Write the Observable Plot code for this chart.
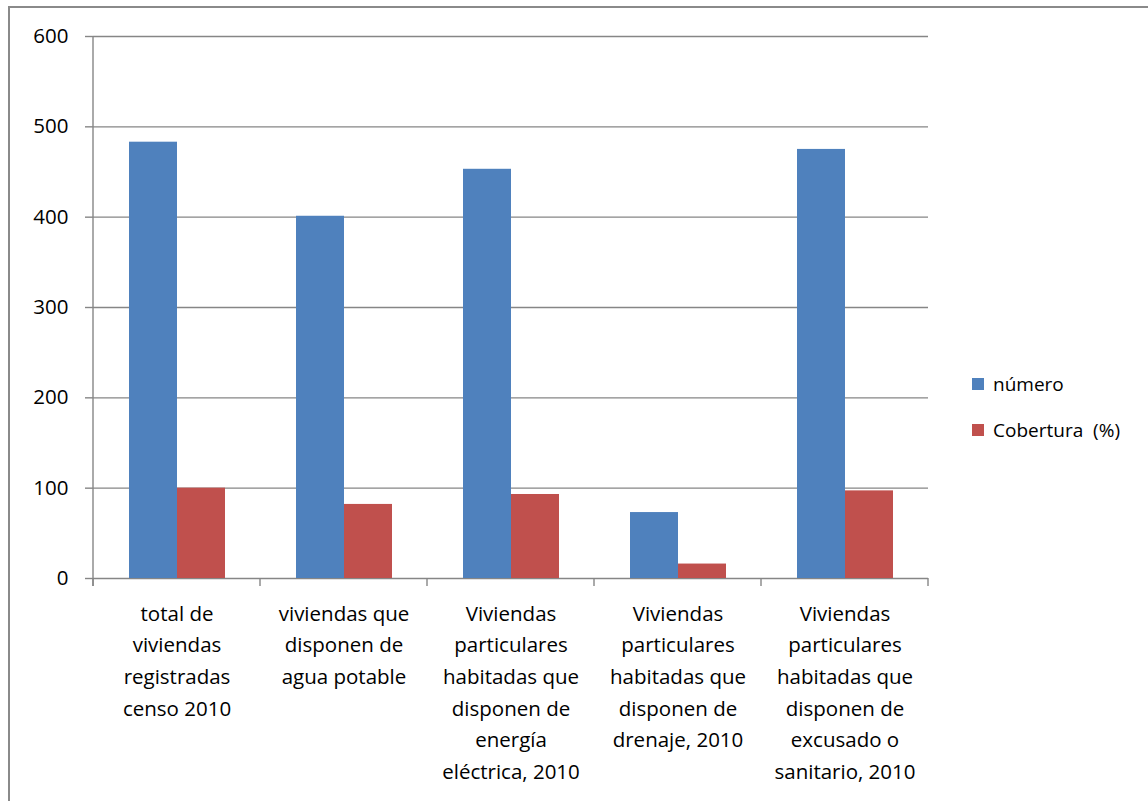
<!DOCTYPE html>
<html>
<head>
<meta charset="utf-8">
<script src="https://cdn.jsdelivr.net/npm/d3@7"></script>
<script src="https://cdn.jsdelivr.net/npm/@observablehq/plot@0.6"></script>
<style>
  html, body { margin: 0; padding: 0; background: #fff; width: 1148px; height: 801px; overflow: hidden; }
  #wrap { position: relative; width: 1148px; height: 801px; }
  #border { position: absolute; left: 8px; top: 6px; width: 1300px; height: 1000px; border-left: 2px solid #8a8a8a; border-top: 2px solid #8a8a8a; box-sizing: border-box; }
  #chart { position: absolute; left: 0; top: 0; }
  #legend { position: absolute; left: 972px; top: 361px; font-family: "Open Sans", Lato, sans-serif; font-size: 19px; color: #000; }
  .item { display: flex; align-items: center; height: 46px; }
  .sw { width: 12px; height: 12px; margin-right: 9px; }
</style>
</head>
<body>
<div id="wrap">
  <div id="border"></div>
  <div id="chart"></div>
  <div id="legend"></div>
</div>
<script>
const categories = [
  "total de viviendas registradas censo 2010",
  "viviendas que disponen de agua potable",
  "Viviendas particulares habitadas que disponen de energía eléctrica, 2010",
  "Viviendas particulares habitadas que disponen de drenaje, 2010",
  "Viviendas particulares habitadas que disponen de excusado o sanitario, 2010"
];
const categoryLabels = [
  "total de\nviviendas\nregistradas\ncenso 2010",
  "viviendas que\ndisponen de\nagua potable",
  "Viviendas\nparticulares\nhabitadas que\ndisponen de\nenergía\neléctrica, 2010",
  "Viviendas\nparticulares\nhabitadas que\ndisponen de\ndrenaje, 2010",
  "Viviendas\nparticulares\nhabitadas que\ndisponen de\nexcusado o\nsanitario, 2010"
];
const series = ["número", "Cobertura  (%)"];
const numero = [483, 401, 453, 73, 475];
const cobertura = [100, 82, 93, 16, 97];
const yTicks = [0, 100, 200, 300, 400, 500, 600];
const colors = ["#4F81BD", "#C0504D"];

const data = categories.flatMap((c, i) => [
  {cat: c, serie: series[0], value: numero[i]},
  {cat: c, serie: series[1], value: cobertura[i]}
]);
const labelOf = new Map(categories.map((c, i) => [c, categoryLabels[i]]));

const plot = Plot.plot({
  width: 940,
  height: 801,
  marginLeft: 91,
  marginRight: 11,
  marginTop: 36,
  marginBottom: 223,
  style: {fontFamily: "'Open Sans', Lato, sans-serif", fontSize: "20.5px", color: "#000", background: "transparent", overflow: "visible"},
  fx: {domain: categories, padding: 0, label: null},
  x: {domain: series, paddingInner: 0, paddingOuter: 0.728, axis: null},
  y: {domain: [0, 600], label: null},
  color: {domain: series, range: colors},
  marks: [
    Plot.gridY(yTicks, {stroke: "#868686", strokeOpacity: 1, strokeWidth: 1.4}),
    Plot.axisY(yTicks, {tickSize: 8, tickPadding: 17, stroke: "#868686", strokeWidth: 1.4, fill: "#000", label: null}),
    Plot.barY(data, {fx: "cat", x: "serie", y: "value", fill: "serie"}),
    Plot.axisFx({anchor: "bottom", tickSize: 0, tickPadding: 20, lineHeight: 1.54, lineAnchor: "top", tickFormat: d => labelOf.get(d), label: null, fill: "#000"})
  ]
});
document.getElementById("chart").appendChild(plot);

// axis line and category boundary ticks, positioned from Plot's own scales
const fxS = plot.scale("fx");
const yS = plot.scale("y");
const svg = d3.select(plot);
const y0 = yS.apply(0), yTop = yS.apply(600);
const bounds = categories.map(c => fxS.apply(c));
bounds.push(bounds[bounds.length - 1] + fxS.bandwidth);
const g = svg.append("g").attr("stroke", "#868686").attr("stroke-width", 1.4);
g.append("line").attr("x1", bounds[0]).attr("x2", bounds[0]).attr("y1", yTop).attr("y2", y0 + 8);
bounds.forEach(b => g.append("line").attr("x1", b).attr("x2", b).attr("y1", y0).attr("y2", y0 + 8));

// legend
const legend = d3.select("#legend");
series.forEach((s, i) => {
  const it = legend.append("div").attr("class", "item");
  it.append("div").attr("class", "sw").style("background", colors[i]);
  it.append("span").style("white-space", "pre").text(s);
});
</script>
</body>
</html>
